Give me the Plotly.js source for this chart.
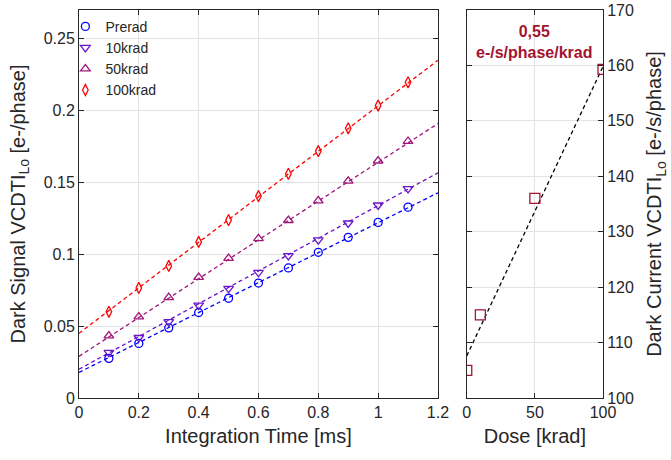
<!DOCTYPE html>
<html>
<head>
<meta charset="utf-8">
<script src="https://cdn.plot.ly/plotly-3.0.1.min.js"></script>
<style>html,body{margin:0;padding:0;background:#fff;}#chart{width:671px;height:460px;}</style>
</head>
<body>
<div id="chart"></div>
<script>
// Left panel data: dark signal vs integration time
const timeMs = [0.1, 0.2, 0.3, 0.4, 0.5, 0.6, 0.7, 0.8, 0.9, 1.0, 1.1];
const prerad = [0.0276, 0.0380, 0.0488, 0.0595, 0.0694, 0.0800, 0.0905, 0.1014, 0.1118, 0.1222, 0.1328];
const krad10 = [0.0317, 0.0420, 0.0530, 0.0646, 0.0762, 0.0873, 0.0990, 0.1100, 0.1217, 0.1342, 0.1456];
const krad50 = [0.0433, 0.0565, 0.0700, 0.0840, 0.0972, 0.1110, 0.1236, 0.1373, 0.1510, 0.1650, 0.1787];
const krad100 = [0.0600, 0.0766, 0.0919, 0.1086, 0.1238, 0.1405, 0.1560, 0.1718, 0.1877, 0.2035, 0.2197];
// Linear fit endpoints
const fitTime = [0, 1.2];
const fitPrerad = [0.0178, 0.1428];
const fit10 = [0.0200, 0.1567];
const fit50 = [0.0290, 0.1910];
const fit100 = [0.0450, 0.2350];
const seriesNames = ['Prerad', '10krad', '50krad', '100krad'];
// Right panel data: dark current vs dose
const dose = [0, 10, 50, 100];
const darkCurrent = [105.0, 115.0, 136.0, 159.3];
const fitDose = [0, 100];
const fitCurrent = [107.6, 159.8];
const slopeLabel = '0,55<br>e-/s/phase/krad';

const colors = ['#0000FF', '#6A14CC', '#A0157A', '#FF0000'];
const symbols = ['circle-open', 'triangle-down-open', 'triangle-up-open', 'diamond-tall-open'];
const sizes = [8, 8.5, 8.5, 8];
const ys = [prerad, krad10, krad50, krad100];
const fits = [fitPrerad, fit10, fit50, fit100];
const dark = '#262626';
const grid = '#e3e3e3';
const font = 'Liberation Sans, Arial, Helvetica, sans-serif';

const traces = [];
for (let i = 0; i < 4; i++) {
  traces.push({x: fitTime, y: fits[i], mode: 'lines', xaxis: 'x', yaxis: 'y', showlegend: false,
    line: {color: colors[i], width: 1.3, dash: '4px,3px'}, hoverinfo: 'skip'});
}
for (let i = 0; i < 4; i++) {
  traces.push({x: timeMs, y: ys[i], mode: 'markers', name: seriesNames[i], xaxis: 'x', yaxis: 'y',
    marker: {symbol: symbols[i], size: sizes[i], color: colors[i], line: {color: colors[i], width: 1.3}}});
}
traces.push({x: fitDose, y: fitCurrent, mode: 'lines', xaxis: 'x2', yaxis: 'y2', showlegend: false,
  line: {color: '#000000', width: 1.3, dash: '4px,3px'}});
traces.push({x: dose, y: darkCurrent, mode: 'markers', xaxis: 'x2', yaxis: 'y2', showlegend: false,
  marker: {symbol: 'square-open', size: 10, color: '#A2142F', line: {color: '#A2142F', width: 1.3}}});

const axBase = {showline: true, linecolor: dark, linewidth: 1, mirror: 'ticks', ticks: 'inside',
  ticklen: 5, tickcolor: dark, gridcolor: grid, gridwidth: 1, zeroline: false,
  tickfont: {family: font, size: 16, color: dark}};

const layout = {
  width: 671, height: 460,
  margin: {l: 79, r: 68, t: 10, b: 62},
  paper_bgcolor: '#ffffff', plot_bgcolor: '#ffffff',
  font: {family: font, color: dark},
  showlegend: true,
  legend: {x: -0.026, y: 0.998, xanchor: 'left', yanchor: 'top', bgcolor: 'rgba(0,0,0,0)',
    borderwidth: 0, font: {family: font, size: 14, color: dark}},
  xaxis: Object.assign({}, axBase, {domain: [0, 0.685], range: [0, 1.2], dtick: 0.2, tick0: 0,
    anchor: 'y', title: {text: 'Integration Time [ms]', font: {family: font, size: 20, color: dark}, standoff: 8}}),
  yaxis: Object.assign({}, axBase, {range: [0, 0.27], dtick: 0.05, tick0: 0, anchor: 'x',
    title: {text: 'Dark Signal VCDTI<sub>Lo</sub> [e-/phase]', font: {family: font, size: 20, color: dark}, standoff: 12}}),
  xaxis2: Object.assign({}, axBase, {domain: [0.740, 1], range: [0, 100], tickvals: [0, 50, 100], anchor: 'y2',
    title: {text: 'Dose [krad]', font: {family: font, size: 20, color: dark}, standoff: 8}}),
  yaxis2: Object.assign({}, axBase, {range: [100, 170], dtick: 10, tick0: 100, anchor: 'x2', side: 'right',
    title: {text: 'Dark Current VCDTI<sub>Lo</sub> [e-/s/phase]', font: {family: font, size: 20, color: dark}, standoff: 14}}),
  annotations: [{xref: 'x2', yref: 'y2', x: 50, y: 164.2, text: '<b>' + slopeLabel + '</b>', showarrow: false,
    font: {family: font, size: 16, color: '#A2142F'}, align: 'center'}]
};

Plotly.newPlot('chart', traces, layout, {displayModeBar: false, responsive: false});
</script>
</body>
</html>
